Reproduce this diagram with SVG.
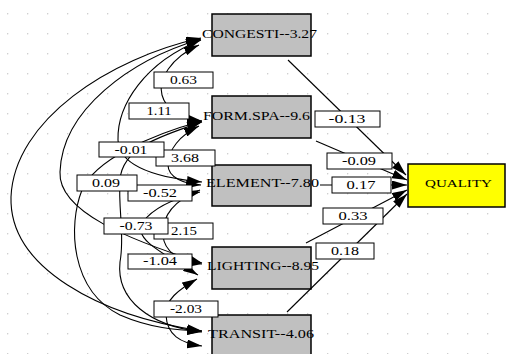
<svg xmlns="http://www.w3.org/2000/svg" width="507" height="354" viewBox="0 0 507 354">
<style>
.nb{fill:#c0c0c0;stroke:#000;stroke-width:1.5}
.nt{font-family:"Liberation Serif","Times New Roman",serif;font-size:12.5px;fill:#000}
.e{fill:none;stroke:#000;stroke-width:1.1}
.lb{fill:#fff;stroke:#000;stroke-width:1}
.lt{font-family:"Liberation Serif","Times New Roman",serif;font-size:12.5px;fill:#000;text-anchor:middle}
</style>
<defs>
<pattern id="grid" patternUnits="userSpaceOnUse" x="7" y="13" width="20" height="20">
<circle cx="0.7" cy="0.7" r="0.7" fill="#c4c4c4"/>
</pattern>
<marker id="ah" markerUnits="userSpaceOnUse" markerWidth="15" markerHeight="9" refX="15" refY="4.5" orient="auto-start-reverse">
<path d="M0,0 L15,4.5 L0,9 z" fill="#000"/>
</marker>
</defs>
<rect width="507" height="354" fill="#fff"/>
<rect width="507" height="354" fill="url(#grid)"/>

<g id="node-congesti">
<rect class="nb" x="212" y="14" width="99" height="42"/>
<text class="nt" x="202" y="38" textLength="115" lengthAdjust="spacingAndGlyphs">CONGESTI--3.27</text>
</g>
<g id="node-formspa">
<rect class="nb" x="212" y="96" width="99" height="42"/>
<text class="nt" x="203" y="120" textLength="107" lengthAdjust="spacingAndGlyphs">FORM.SPA--9.6</text>
</g>
<g id="node-element">
<rect class="nb" x="212" y="165" width="99" height="41"/>
<text class="nt" x="206" y="187" textLength="113" lengthAdjust="spacingAndGlyphs">ELEMENT--7.80</text>
</g>
<g id="node-lighting">
<rect class="nb" x="212" y="247" width="99" height="42"/>
<text class="nt" x="207" y="270" textLength="112" lengthAdjust="spacingAndGlyphs">LIGHTING--8.95</text>
</g>
<g id="node-transit">
<rect class="nb" x="212" y="315" width="99" height="42"/>
<text class="nt" x="208" y="338" textLength="106" lengthAdjust="spacingAndGlyphs">TRANSIT--4.06</text>
</g>
<g id="node-quality">
<rect x="408" y="164" width="97" height="43" fill="#ffff00" stroke="#000" stroke-width="1.5"/>
<text x="425" y="187" font-family="Liberation Serif, Times New Roman, serif" font-size="11" textLength="67" lengthAdjust="spacingAndGlyphs">QUALITY</text>
</g>

<g id="connectors">
<path class="e" marker-start="url(#ah)" marker-end="url(#ah)" d="M201,38 C110,58 14,120 11,197 C9,268 100,316 202,331"/>
<path class="e" marker-start="url(#ah)" marker-end="url(#ah)" d="M201,39 C130,60 62,110 60,172 C58,212 130,240 202,263"/>
<path class="e" marker-start="url(#ah)" marker-end="url(#ah)" d="M201,40 C145,62 117,105 118,140 C119,168 160,178 202,182"/>
<path class="e" marker-start="url(#ah)" marker-end="url(#ah)" d="M199,45 C170,58 158,80 162,95 C166,110 180,118 202,121"/>
<path class="e" marker-start="url(#ah)" marker-end="url(#ah)" d="M199,126 C180,135 168,150 168,165 C168,178 185,184 201,185"/>
<path class="e" marker-start="url(#ah)" marker-end="url(#ah)" d="M202,121 C150,135 95,160 82,190 C68,225 70,290 120,315 C150,328 175,330 202,331"/>
<path class="e" marker-start="url(#ah)" marker-end="url(#ah)" d="M202,122 C160,136 122,148 120,180 C118,210 125,235 120,262 C116,300 150,326 202,332"/>
<path class="e" marker-start="url(#ah)" marker-end="url(#ah)" d="M200,190 C175,200 162,215 163,235 C164,252 180,262 202,264"/>
<path class="e" marker-start="url(#ah)" marker-end="url(#ah)" d="M200,192 C180,197 155,205 143,222 C132,238 160,252 198,275"/>
<path class="e" marker-start="url(#ah)" marker-end="url(#ah)" d="M197,279 C178,290 165,300 166,315 C167,335 180,343 202,346"/>
<path class="e" marker-end="url(#ah)" d="M288,60 L406,175"/>
<path class="e" marker-end="url(#ah)" d="M316,141 L407,180"/>
<path class="e" marker-end="url(#ah)" d="M320,185 L407,185"/>
<path class="e" marker-end="url(#ah)" d="M306,243 L407,190"/>
<path class="e" marker-end="url(#ah)" d="M287,312 L407,194"/>
</g>

<g id="edge-labels">
<rect class="lb" x="154" y="72" width="59" height="16"/><text class="lt" x="183.5" y="84" textLength="27" lengthAdjust="spacingAndGlyphs">0.63</text>
<rect class="lb" x="129" y="103" width="60" height="16"/><text class="lt" x="159" y="115" textLength="25" lengthAdjust="spacingAndGlyphs">1.11</text>
<rect class="lb" x="156" y="150" width="59" height="16"/><text class="lt" x="185" y="162" textLength="28" lengthAdjust="spacingAndGlyphs">3.68</text>
<rect class="lb" x="99" y="142" width="65" height="15"/><text class="lt" x="131" y="154" textLength="33" lengthAdjust="spacingAndGlyphs">-0.01</text>
<rect class="lb" x="128" y="185" width="64" height="16"/><text class="lt" x="160" y="197" textLength="34" lengthAdjust="spacingAndGlyphs">-0.52</text>
<rect class="lb" x="77" y="175" width="60" height="16"/><text class="lt" x="106" y="187" textLength="28" lengthAdjust="spacingAndGlyphs">0.09</text>
<rect class="lb" x="154" y="223" width="59" height="16"/><text class="lt" x="184" y="235" textLength="26" lengthAdjust="spacingAndGlyphs">2.15</text>
<rect class="lb" x="104" y="218" width="64" height="16"/><text class="lt" x="136" y="230" textLength="33" lengthAdjust="spacingAndGlyphs">-0.73</text>
<rect class="lb" x="128" y="254" width="64" height="15"/><text class="lt" x="160" y="265" textLength="34" lengthAdjust="spacingAndGlyphs">-1.04</text>
<rect class="lb" x="154" y="301" width="64" height="16"/><text class="lt" x="186" y="313" textLength="32" lengthAdjust="spacingAndGlyphs">-2.03</text>
<rect class="lb" x="315" y="111" width="65" height="16"/><text class="lt" x="347" y="123" textLength="37" lengthAdjust="spacingAndGlyphs">-0.13</text>
<rect class="lb" x="327" y="153" width="65" height="16"/><text class="lt" x="359" y="165" textLength="34" lengthAdjust="spacingAndGlyphs">-0.09</text>
<rect class="lb" x="332" y="177" width="59" height="16"/><text class="lt" x="361" y="189" textLength="29" lengthAdjust="spacingAndGlyphs">0.17</text>
<rect class="lb" x="323" y="208" width="60" height="16"/><text class="lt" x="353" y="220" textLength="29" lengthAdjust="spacingAndGlyphs">0.33</text>
<rect class="lb" x="316" y="243" width="58" height="16"/><text class="lt" x="345" y="255" textLength="28" lengthAdjust="spacingAndGlyphs">0.18</text>
</g>
</svg>
